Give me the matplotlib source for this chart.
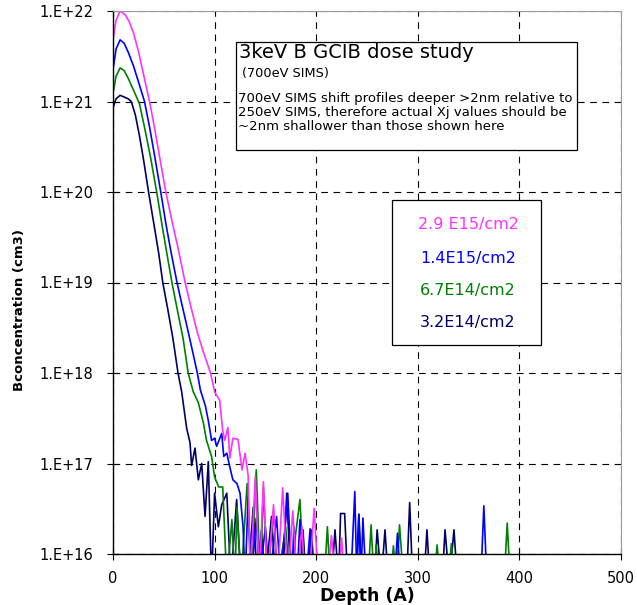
import numpy as np
import matplotlib
matplotlib.use("Agg")
import matplotlib.pyplot as plt
from matplotlib.patches import Rectangle
from matplotlib.ticker import FixedLocator, FuncFormatter

FL = 5e15  # below the axis floor (signal lost in noise)

# 2.9E15/cm2
x_mag = [0, 3, 7, 12, 16, 20, 25, 30, 36, 41, 46, 52, 58, 64, 71, 77, 83, 89, 96,
         100, 105, 108, 110, 113, 115, 118, 123, 127, 130, 133, 135, 140, 144, 148, 152,
         158, 162, 167, 172, 177, 181, 186, 189, 193, 198, 202, 211, 215, 219, 222, 225, 228]
y_mag = [4.8e21, 7.9e21, 1.0e22, 9.1e21, 7.6e21, 5.8e21, 3.6e21, 2.0e21, 1.0e21,
         5.0e20, 2.4e20, 1.0e20, 4.8e19, 2.4e19, 1.0e19, 5.2e18, 2.8e18, 1.7e18, 1.0e18,
         6.2e17, 5.0e17, 2.3e17, 1.8e17, 2.5e17, 1.15e17, 1.9e17, 1.85e17, 8.5e16, 1.3e17,
         7.4e16, FL, 7.1e16, FL, 6.3e16, FL,
         3.5e16, FL, 5.4e16, FL, 3.0e16, FL, 2.0e16, FL, FL, 3.2e16, FL, FL, 1.6e16, FL, FL, 1.5e16, FL]

# 1.4E15/cm2
x_blu = [0, 3, 7, 11, 15, 20, 25, 31, 36, 41, 47, 52, 57, 63, 68, 73, 78, 83, 86, 91,
         94, 97, 100, 102, 107, 109, 112, 115, 118, 122, 125, 128, 130, 133, 136, 141, 144,
         150, 154, 161, 165, 172, 176, 178, 181, 184, 187, 190, 194, 197, 234, 238, 240,
         242, 244, 246, 249, 277, 280, 283, 362, 365, 368]
y_blu = [2.24e21, 3.8e21, 4.8e21, 4.4e21, 3.5e21, 2.5e21, 1.66e21, 1.0e21, 5.2e20, 2.5e20,
         1.0e20, 4.5e19, 2.2e19, 1.0e19, 5.6e18, 3.2e18, 1.8e18, 1.0e18, 6.5e17, 4.3e17,
         2.9e17, 1.8e17, 1.9e17, 1.55e17, 2.15e17, 1.2e17, 1.3e17, 9.1e16, 6.6e16, 6.0e16, 4.7e16, 2.0e16,
         FL, 4.3e16, FL, 2.5e16, FL,
         2.0e16, FL, 2.6e16, FL, 4.7e16, FL, 2.0e16, FL, 2.4e16, FL, FL, 1.9e16, FL, FL, 4.9e16, FL,
         2.75e16, FL, 2.5e16, FL, FL, 1.7e16, FL, FL, 3.4e16, FL]

# 6.7E14/cm2
x_grn = [0, 3, 7, 11, 15, 20, 26, 31, 37, 43, 48, 53, 58, 63, 69, 74, 79, 84, 89, 92,
         97, 100, 104, 108, 112, 117, 120, 122, 126, 132, 136, 141, 145, 148, 152, 158, 162,
         170, 174, 184, 188, 208, 211, 214, 251, 254, 257, 259, 262, 273, 276, 279, 282, 286,
         316, 319, 322, 330, 333, 336, 385, 388, 391]
y_grn = [1.23e21, 1.9e21, 2.35e21, 2.2e21, 1.8e21, 1.35e21, 9.5e20, 5.2e20, 2.4e20, 1.0e20,
         4.5e19, 2.1e19, 1.0e19, 5.2e18, 2.4e18, 1.0e18, 6.2e17, 4.7e17, 2.8e17, 1.8e17,
         1.2e17, 7.1e16, 5.5e16, 5.5e16, FL, 2.4e16, FL, 3.3e16, FL, 6.0e16, FL, 8.5e16, FL,
         5.5e16, FL, 3.0e16, FL,
         2.0e16, FL, 4.0e16, FL, FL, 2.0e16, FL, FL, 2.1e16, FL, 1.26e16, FL, FL, 1.23e16, FL,
         2.1e16, FL, FL, 1.26e16, FL, FL, 1.3e16, FL, FL, 2.2e16, FL]

# 3.2E14/cm2
x_nav = [0, 3, 7, 11, 15, 18, 22, 26, 30, 35, 40, 45, 49, 54, 59, 64, 67.6, 72.5, 75.8, 77.4,
         80.7, 84, 87.3, 90.6, 93.8, 97, 100, 103.7, 107, 112, 116, 121.7, 126, 133, 138,
         142, 146, 150, 156, 160, 167, 171, 175, 184, 187, 190, 192, 195, 199, 215, 218.5,
         222, 224, 228, 231, 239, 242, 245, 257, 260, 264, 267.7, 271, 289, 292, 295, 306,
         309, 312, 324, 326.8, 331, 335.6, 339]
y_nav = [8.5e20, 1.07e21, 1.17e21, 1.12e21, 1.07e21, 1.0e21, 7.1e20, 4.2e20, 2.3e20, 1.0e20, 4.6e19,
         2.1e19, 1.0e19, 5.0e18, 2.4e18, 1.0e18, 6.2e17, 2.45e17, 1.7e17, 9.5e16,
         1.48e17, 6.6e16, 1.0e17, 2.6e16, 1.05e17, FL, 4.7e16, 2.0e16, 3.5e16, 4.7e16, FL, 4.0e16, FL, FL, 3.3e16,
         FL, 1.8e16, FL, 2.6e16, FL, FL, 4.7e16, FL, FL, 1.85e16, FL, FL, 1.85e16, FL, FL, 1.85e16,
         FL, 2.8e16, 2.8e16, FL, FL, 2.75e16, FL, FL, 1.85e16, FL, 1.85e16, FL, FL, 3.7e16, FL, FL,
         1.85e16, FL, FL, 1.85e16, FL, 1.85e16, FL]

labels = ["2.9 E15/cm2", "1.4E15/cm2", "6.7E14/cm2", "3.2E14/cm2"]
colors = ["#ff33ff", "#0000ff", "#008000", "#000066"]

W, H = 637, 605
fig = plt.figure(figsize=(W / 100, H / 100), dpi=100)
ax = fig.add_axes([113 / W, 1 - 554 / H, (621 - 113) / W, (554 - 11) / H])

series = [(x_mag, y_mag), (x_blu, y_blu), (x_grn, y_grn), (x_nav, y_nav)]
for (xs, ys), c in zip(series[::-1], colors[::-1]):
    ax.plot(xs, ys, color=c, lw=1.2)

ax.set_yscale("log")
ax.set_xlim(0, 500)
ax.set_ylim(1e16, 1e22)
ax.xaxis.set_major_locator(FixedLocator([0, 100, 200, 300, 400, 500]))
ax.yaxis.set_major_locator(FixedLocator([10.0 ** k for k in range(16, 23)]))
ax.yaxis.set_minor_locator(FixedLocator([]))
ax.yaxis.set_major_formatter(FuncFormatter(lambda v, p: "1.E+%d" % round(np.log10(v))))
ax.tick_params(axis="both", direction="inout", length=8, width=0.8, labelsize=10.5, colors="black")
ax.tick_params(axis="y", pad=10)
ax.tick_params(axis="x", pad=8)

ax.grid(True, color="black", ls=(0, (6, 5)), lw=0.8)
for s in ["top", "right"]:
    ax.spines[s].set_color("#999999")
for s in ["left", "bottom"]:
    ax.spines[s].set_linewidth(1.0)

ax.set_xlabel("Depth (A)", fontsize=12.5, fontweight="bold", labelpad=1)
ax.set_ylabel("Bconcentration (cm3)", fontsize=9.5, fontweight="bold")
ax.yaxis.set_label_coords(-0.172, 0.45)


def fp(x, y):
    return (x / W, 1 - y / H)


# annotation box
fig.patches.append(Rectangle(fp(236, 150), (577 - 236) / W, (150 - 42) / H,
                             transform=fig.transFigure, fill=True, fc="white",
                             ec="black", lw=0.9, zorder=5))
fig.text(*fp(239, 53), "3keV B GCIB dose study", fontsize=14, va="center", zorder=6)
fig.text(*fp(242, 73), "(700eV SIMS)", fontsize=9.3, va="center", zorder=6)
fig.text(*fp(238, 92), "700eV SIMS shift profiles deeper >2nm relative to\n"
         "250eV SIMS, therefore actual Xj values should be\n"
         "~2nm shallower than those shown here",
         fontsize=9.5, va="top", linespacing=1.12, zorder=6)

# dose legend box
fig.patches.append(Rectangle(fp(392, 345), (541 - 392) / W, (345 - 200) / H,
                             transform=fig.transFigure, fill=True, fc="white",
                             ec="black", lw=0.9, zorder=5))
for lab, c, yy in zip(labels, colors, [225, 258, 291, 323]):
    fig.text(*fp(468, yy), lab, color=c, fontsize=11.5, ha="center", va="center", zorder=6)

fig.savefig("out.png", dpi=100)
